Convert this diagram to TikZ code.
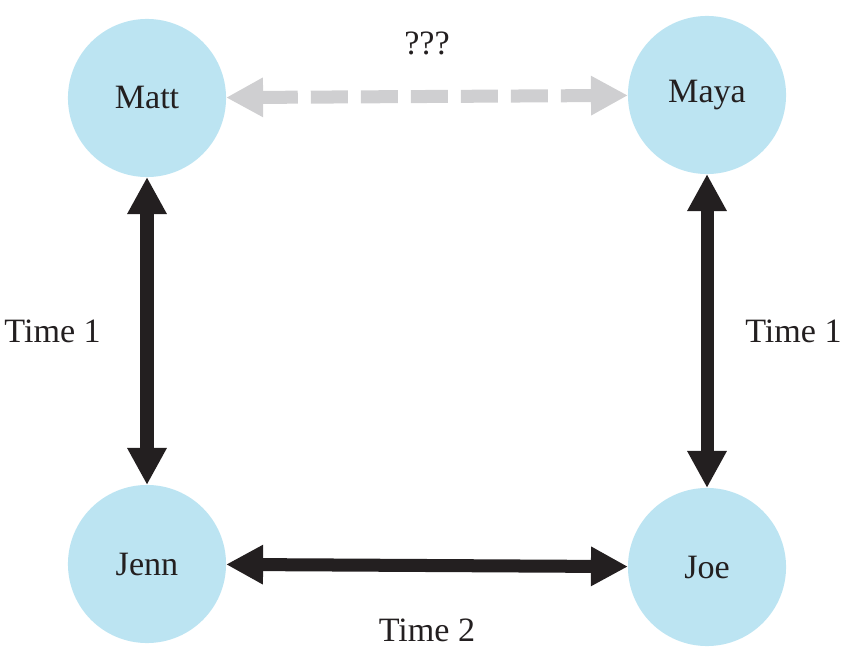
\documentclass[tikz,border=0pt]{standalone}
\usepackage{fontspec}
\setmainfont{Liberation Serif}
\usetikzlibrary{arrows.meta}
\definecolor{pblue}{RGB}{188,228,242}
\definecolor{pgray}{RGB}{207,207,209}
\definecolor{pblack}{RGB}{35,31,32}

\begin{document}
\begin{tikzpicture}[x=0.01cm,y=-0.01cm,
    every node/.style = {shape=circle, fill=pblue, text=pblack,
    minimum size=1.58cm, inner sep=0pt, outer sep=0pt,
    font=\fontsize{9.7}{11}\selectfont},
    link/.style={line width=0.13cm, draw=pblack,
    {Triangle[length=0.37cm,width=0.37cm]}-{Triangle[length=0.37cm,width=0.37cm]}},
    unknown/.style={link, draw=pgray, dash pattern=on 0.37cm off 0.13cm}]
    \useasboundingbox (0,0) rectangle (852,661);
    \node (1) at (147, 98) {Matt};
    \node (2) at (707, 95) {Maya};
    \node (3) at (147, 564) {Jenn};
    \node (4) at (707, 567) {Joe};
    \path[every node/.style={text=pblack, font=\fontsize{9.7}{11}\selectfont}]
        (1) edge[unknown] node[above=0.23cm] {???} (2)
        (1) edge[link] node[left=0.28cm] {Time 1} (3)
        (2) edge[link] node[right=0.2cm] {Time 1} (4)
        (3) edge[link] node[below=0.35cm] {Time 2} (4);
\end{tikzpicture}
\end{document}
